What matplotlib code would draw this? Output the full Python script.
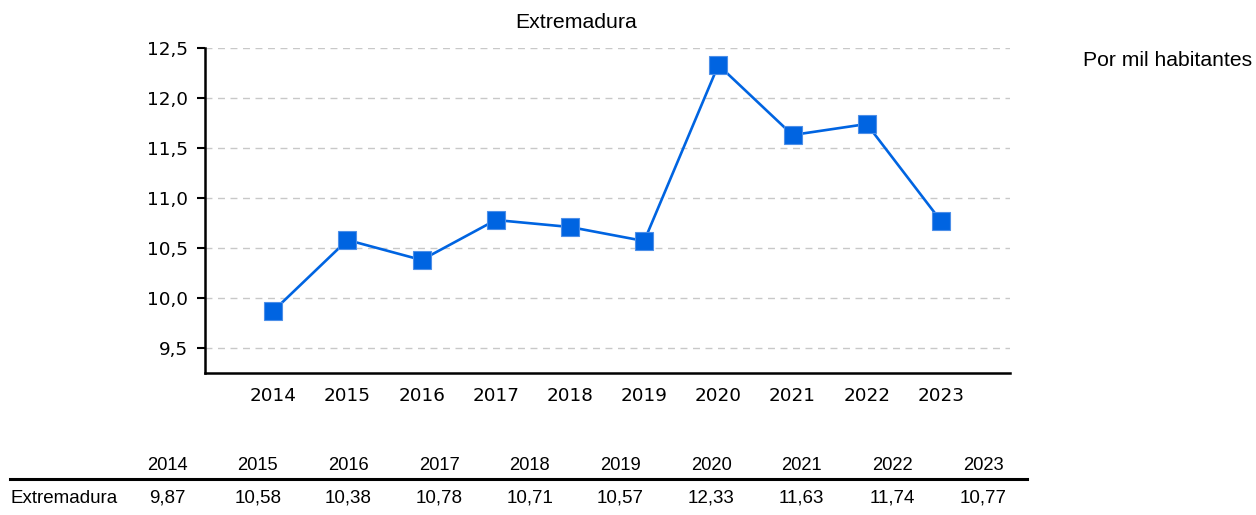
import matplotlib
matplotlib.use("Agg")
import matplotlib.pyplot as plt
from matplotlib.lines import Line2D
import numpy as np

years = [2014, 2015, 2016, 2017, 2018, 2019, 2020, 2021, 2022, 2023]
values = [9.87, 10.58, 10.38, 10.78, 10.71, 10.57, 12.33, 11.63, 11.74, 10.77]
region = "Extremadura"
yticks = [9.5, 10.0, 10.5, 11.0, 11.5, 12.0, 12.5]

blue = "#0064e1"
sans = ["Liberation Sans", "DejaVu Sans"]

def comma(v, nd):
    return f"{v:.{nd}f}".replace(".", ",")

fig = plt.figure(figsize=(12.56, 5.15), dpi=100)

ax = fig.add_axes([0.1632, 0.2757, 0.6409, 0.6311])
x = np.arange(len(years))
ax.plot(x, values, color=blue, lw=1.9, marker="s", ms=13.5,
        mfc=blue, mec="#4d8fe8", mew=0.8, zorder=3)
ax.set_xlim(-0.92, 9.93)
ax.set_ylim(9.25, 12.5)
ax.set_yticks(yticks)
ax.set_yticklabels([comma(v, 1) for v in yticks], fontsize=13.2)
ax.set_xticks(x)
ax.set_xticklabels([str(y) for y in years], fontsize=13.2)
ax.tick_params(axis="x", length=0, pad=10)
ax.tick_params(axis="y", length=6, width=1.5, pad=6)
for t in yticks:
    ax.axhline(t, color="#c8c8c8", lw=1, ls=(0, (5, 4)), zorder=1)
for s in ["top", "right"]:
    ax.spines[s].set_visible(False)
for s in ["left", "bottom"]:
    ax.spines[s].set_linewidth(1.8)

fig.text(0.4586, 0.957, region, ha="center", va="center", fontsize=15.3, family=sans)
fig.text(0.862, 0.883, "Por mil habitantes", ha="left", va="center", fontsize=15.2, family=sans)

# data table under the chart
tax = fig.add_axes([0.0969, 0.0, 0.7219, 0.2])
tax.set_xlim(-0.5, 9.5)
tax.set_ylim(0, 1)
tax.axis("off")
for i, (y, v) in enumerate(zip(years, values)):
    tax.text(i, 0.485, str(y), ha="center", va="center", fontsize=13.2, family=sans)
    tax.text(i, 0.165, comma(v, 2), ha="center", va="center", fontsize=13.5, family=sans)
fig.text(0.008, 0.033, region, ha="left", va="center", fontsize=13.5, family=sans)
fig.add_artist(Line2D([0.008, 0.8177], [0.0699, 0.0699], color="black", lw=2.2,
                      transform=fig.transFigure))

fig.savefig("out.png", dpi=100)
